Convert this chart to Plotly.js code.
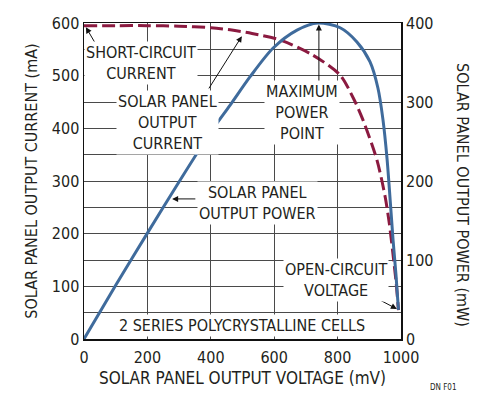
<!DOCTYPE html>
<html>
<head>
<meta charset="utf-8">
<script src="https://cdn.plot.ly/plotly-3.0.1.min.js"></script>
<style>
html,body{margin:0;padding:0;background:#fff;}
#chart{width:485px;height:399px;}
</style>
</head>
<body>
<div id="chart"></div>
<script>
// Solar panel output current (mA) vs voltage (mV)
const currentV = [0, 100, 200, 300, 400, 461, 530, 618, 722, 808, 849, 880, 924, 950, 963, 974, 985, 992];
const currentI = [595, 595, 595, 594, 591, 587, 580, 568, 539, 501, 458, 416, 340, 270, 220, 165, 105, 55];
// Solar panel output power (mW) vs voltage (mV)
const powerV = [0, 100, 200, 300, 400, 461, 524, 596, 672, 738, 808, 861, 902, 927, 943, 956, 966, 975, 984, 992];
const powerP = [0, 68, 134, 199, 262, 296, 332, 368, 391, 400, 394, 376, 351, 318, 278, 228, 175, 125, 82, 37];

const xTicks = [0, 200, 400, 600, 800, 1000];
const yTicks = [0, 100, 200, 300, 400, 500, 600];
const y2Ticks = [0, 100, 200, 300, 400];

const FONT = '"Liberation Sans Narrow", "DejaVu Sans Condensed", "Liberation Sans", Arial, sans-serif';
const TXT = '#231f20';

const traces = [
  {x: currentV, y: currentI, type: 'scatter', mode: 'lines', yaxis: 'y',
   line: {color: '#8b1a40', width: 3, dash: '13px,5px', shape: 'spline', smoothing: 0.8}, hoverinfo: 'skip'},
  {x: powerV, y: powerP, type: 'scatter', mode: 'lines', yaxis: 'y2',
   line: {color: '#3f6b9c', width: 3, shape: 'spline', smoothing: 0.8}, hoverinfo: 'skip'}
];

function label(text, x, y) {
  return {x: x, y: y, xref: 'x', yref: 'y', text: text, showarrow: false,
    bgcolor: '#ffffff', borderpad: 1, font: {family: FONT, size: 16, color: TXT}, align: 'center'};
}
function arrow(hx, hy, tx, ty) {
  return {x: hx, y: hy, xref: 'x', yref: 'y', ax: tx, ay: ty, axref: 'x', ayref: 'y',
    text: '', showarrow: true, arrowhead: 2, arrowsize: 1.2, arrowwidth: 1, arrowcolor: '#111',
    standoff: 0, startstandoff: 0};
}

const annotations = [
  arrow(6, 592, 41, 556),
  arrow(498, 575, 391, 473),
  arrow(741, 597, 741, 486),
  arrow(278, 266, 356, 266),
  arrow(987, 57, 902, 84),
  label('SHORT-CIRCUIT<br>CURRENT', 180, 524),
  label('SOLAR PANEL<br>OUTPUT<br>CURRENT', 262, 412),
  label('MAXIMUM<br>POWER<br>POINT', 688, 431),
  label('SOLAR PANEL<br>OUTPUT POWER', 546, 258),
  label('OPEN-CIRCUIT<br>VOLTAGE', 795, 112),
  label('2 SERIES POLYCRYSTALLINE CELLS', 498, 25),
  {xref: 'paper', yref: 'paper', x: 1.196, y: 0.455, xanchor: 'center', yanchor: 'middle',
   text: 'SOLAR PANEL OUTPUT POWER (mW)',
   textangle: 90, showarrow: false, font: {family: FONT, size: 16, color: TXT}},
  {xref: 'paper', yref: 'paper', x: 1.085, y: -0.155, xanchor: 'left', yanchor: 'middle', text: 'DN F01',
   showarrow: false, font: {family: FONT, size: 8, color: TXT}}
];

const layout = {
  width: 485, height: 399,
  margin: {l: 84, r: 84, t: 23, b: 60},
  paper_bgcolor: '#ffffff', plot_bgcolor: '#ffffff',
  showlegend: false,
  font: {family: FONT, size: 16, color: TXT},
  xaxis: {range: [0, 1000], tickvals: xTicks, ticktext: xTicks.map(String),
    showgrid: true, gridcolor: '#4a4a4a', gridwidth: 1, zeroline: false,
    showline: true, linecolor: '#111', linewidth: 1.5, mirror: true, ticks: '',
    ticklabelstandoff: 3,
    tickfont: {family: FONT, size: 16, color: TXT},
    title: {text: 'SOLAR PANEL OUTPUT VOLTAGE (mV)', font: {family: FONT, size: 17, color: TXT}, standoff: 6}},
  yaxis: {range: [0, 600], tickvals: yTicks, ticktext: yTicks.map(String),
    showgrid: true, gridcolor: '#4a4a4a', gridwidth: 1, zeroline: false,
    minor: {dtick: 50, tick0: 0, showgrid: true, gridcolor: '#4a4a4a', gridwidth: 1, ticks: ''},
    showline: true, linecolor: '#111', linewidth: 1.5, mirror: true, ticks: '',
    tickfont: {family: FONT, size: 16, color: TXT},
    title: {text: 'SOLAR PANEL OUTPUT CURRENT (mA)', font: {family: FONT, size: 16, color: TXT}, standoff: 10}},
  yaxis2: {range: [0, 400], tickvals: y2Ticks, ticktext: y2Ticks.map(String),
    overlaying: 'y', side: 'right', showgrid: false, zeroline: false, showline: false, ticks: '',
    ticklabelstandoff: 4,
    tickfont: {family: FONT, size: 16, color: TXT}},
  annotations: annotations
};

Plotly.newPlot('chart', traces, layout, {staticPlot: true, displayModeBar: false});
</script>
</body>
</html>
